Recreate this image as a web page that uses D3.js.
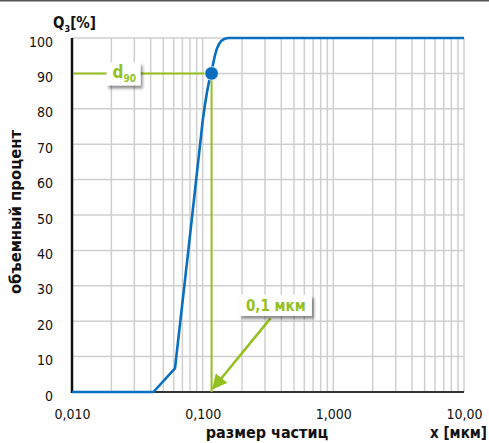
<!DOCTYPE html>
<html>
<head>
<meta charset="utf-8">
<script src="https://cdn.jsdelivr.net/npm/d3@7"></script>
<style>
  body { margin: 0; background: #fff; }
  text { font-family: "DejaVu Sans Condensed", "DejaVu Sans", sans-serif; }
</style>
</head>
<body>
<div id="chart"></div>
<script>
// particle size distribution (cumulative volume)
var sizes  = [0.010, 0.030, 0.042, 0.0614, 0.0777, 0.100, 0.104, 0.108, 0.112, 0.117, 0.120, 0.124, 0.128, 0.133, 0.139, 0.146, 0.156, 0.175, 1.0, 10.0];
var volume = [0, 0, 0, 6.7, 40, 76.5, 81, 84.8, 87.8, 90.5, 92.6, 95, 96.8, 98.2, 99.2, 99.7, 100, 100, 100, 100];
var d90 = 0.117;
var d90Value = 90;
var yTicks = [0, 10, 20, 30, 40, 50, 60, 70, 80, 90, 100];
var xTicks = [0.01, 0.1, 1, 10];
var xTickLabels = ["0,010", "0,100", "1,000", "10,00"];

var svgWidth = 489;
var svgHeight = 443;
var margin = { top: 38, right: 25, bottom: 51, left: 72 };
var width = svgWidth - margin.left - margin.right;
var height = svgHeight - margin.top - margin.bottom;

var blue = "#0a6fbf";
var green = "#93c01f";

var svg = d3.select("#chart").append("svg")
    .attr("width", svgWidth)
    .attr("height", svgHeight);

// drop shadow for the label boxes
var filter = svg.append("defs").append("filter")
    .attr("id", "shadow")
    .attr("x", "-30%").attr("y", "-30%")
    .attr("width", "160%").attr("height", "180%");
filter.append("feDropShadow")
    .attr("dx", 2).attr("dy", 3)
    .attr("stdDeviation", 1.8)
    .attr("flood-color", "#000")
    .attr("flood-opacity", 0.45);

svg.select("defs").append("marker")
    .attr("id", "arrow")
    .attr("viewBox", "0 0 10 10")
    .attr("refX", 9).attr("refY", 5)
    .attr("markerWidth", 6).attr("markerHeight", 6)
    .attr("markerUnits", "strokeWidth")
    .attr("orient", "auto")
    .append("path")
    .attr("d", "M0,0 L10,5 L0,10 Z")
    .attr("fill", green);

// top frame line
svg.append("line")
    .attr("x1", 0).attr("x2", svgWidth)
    .attr("y1", 0.5).attr("y2", 0.5)
    .attr("stroke", "#555").attr("stroke-width", 2);

var chartGroup = svg.append("g")
    .attr("transform", `translate(${margin.left}, ${margin.top})`);

var xScale = d3.scaleLog().domain([0.01, 10]).range([0, width]);
var yScale = d3.scaleLinear().domain([0, 100]).range([height, 0]);

// grid
var gridX = [];
[0.01, 0.1, 1].forEach(function(dec) {
    for (var i = 2; i <= 10; i++) gridX.push(dec * i);
});
chartGroup.append("g").selectAll("line")
    .data(gridX)
    .enter().append("line")
    .attr("x1", d => xScale(d)).attr("x2", d => xScale(d))
    .attr("y1", 0).attr("y2", height)
    .attr("stroke", "#cfcfcf").attr("stroke-width", 1.5);
chartGroup.append("g").selectAll("line")
    .data(yTicks.slice(1))
    .enter().append("line")
    .attr("x1", 0).attr("x2", width)
    .attr("y1", d => yScale(d)).attr("y2", d => yScale(d))
    .attr("stroke", "#cfcfcf").attr("stroke-width", 1.5);

// axes
var leftAxis = d3.axisLeft(yScale).tickValues(yTicks).tickSize(0).tickPadding(19);
var bottomAxis = d3.axisBottom(xScale).tickValues(xTicks).tickSize(0).tickPadding(17)
    .tickFormat((d, i) => xTickLabels[i]);

var yAxis = chartGroup.append("g").call(leftAxis);
yAxis.select(".domain").remove();
yAxis.selectAll("text")
    .attr("font-size", 14).attr("fill", "#111").attr("dy", 8)
    .style("font-family", "'DejaVu Sans Condensed', 'DejaVu Sans', sans-serif");

var xAxis = chartGroup.append("g")
    .attr("transform", `translate(0, ${height})`)
    .call(bottomAxis);
xAxis.select(".domain").remove();
xAxis.selectAll("text")
    .attr("font-size", 14).attr("fill", "#111").attr("dy", 10)
    .style("font-family", "'DejaVu Sans Condensed', 'DejaVu Sans', sans-serif");

chartGroup.append("line")
    .attr("x1", 0).attr("x2", width)
    .attr("y1", height).attr("y2", height)
    .attr("stroke", "#333").attr("stroke-width", 2);
chartGroup.append("line")
    .attr("x1", 0).attr("x2", 0)
    .attr("y1", 0).attr("y2", height + 1)
    .attr("stroke", "#111").attr("stroke-width", 2.5);

// d90 guide lines
chartGroup.append("line")
    .attr("x1", 1).attr("x2", xScale(d90))
    .attr("y1", yScale(d90Value)).attr("y2", yScale(d90Value))
    .attr("stroke", green).attr("stroke-width", 2);
chartGroup.append("line")
    .attr("x1", xScale(d90)).attr("x2", xScale(d90))
    .attr("y1", yScale(d90Value)).attr("y2", height)
    .attr("stroke", green).attr("stroke-width", 2);

// distribution curve
var line = d3.line()
    .x((d, i) => xScale(sizes[i]))
    .y(d => yScale(d));
chartGroup.append("path")
    .datum(volume)
    .attr("d", line)
    .attr("fill", "none")
    .attr("stroke", blue)
    .attr("stroke-width", 2.6)
    .attr("stroke-linejoin", "round");

chartGroup.append("circle")
    .attr("cx", xScale(d90)).attr("cy", yScale(d90Value))
    .attr("r", 6.8)
    .attr("fill", blue)
    .attr("stroke", "#fff").attr("stroke-width", 0.8);

// d90 label box
var dBox = chartGroup.append("g")
    .attr("transform", `translate(${xScale(0.0248)}, ${yScale(d90Value)})`);
dBox.append("rect")
    .attr("x", -17).attr("y", -11)
    .attr("width", 34).attr("height", 23)
    .attr("fill", "#fff")
    .attr("filter", "url(#shadow)");
var dText = dBox.append("text")
    .attr("x", -11).attr("y", 5)
    .attr("fill", green).attr("font-weight", "bold").attr("font-size", 17);
dText.append("tspan").text("d");
dText.append("tspan").attr("font-size", 10).attr("dy", 4).text("90");

// arrow + size label
chartGroup.append("line")
    .attr("x1", xScale(0.330)).attr("y1", yScale(20.8))
    .attr("x2", xScale(0.120)).attr("y2", yScale(1.0))
    .attr("stroke", green).attr("stroke-width", 2.5)
    .attr("marker-end", "url(#arrow)");

var sBox = chartGroup.append("g")
    .attr("transform", `translate(${xScale(0.363)}, ${yScale(24.6)})`);
sBox.append("rect")
    .attr("x", -36).attr("y", -10)
    .attr("width", 72).attr("height", 21)
    .attr("fill", "#fff")
    .attr("filter", "url(#shadow)");
sBox.append("text")
    .attr("x", 0).attr("y", 6)
    .attr("text-anchor", "middle")
    .attr("fill", green).attr("font-weight", "bold").attr("font-size", 15)
    .text("0,1 мкм");

// axis titles
svg.append("text")
    .attr("x", 267).attr("y", 438)
    .attr("text-anchor", "middle")
    .attr("font-weight", "bold").attr("font-size", 16).attr("fill", "#111")
    .text("размер частиц");
svg.append("text")
    .attr("x", 487).attr("y", 438)
    .attr("text-anchor", "end")
    .attr("font-weight", "bold").attr("font-size", 15).attr("fill", "#111")
    .text("x [мкм]");
svg.append("text")
    .attr("transform", "translate(21, 212) rotate(-90)")
    .attr("text-anchor", "middle")
    .attr("font-weight", "bold").attr("font-size", 16.5).attr("fill", "#111")
    .text("объемный процент");

var qText = svg.append("text")
    .attr("x", 53).attr("y", 28)
    .attr("font-weight", "bold").attr("font-size", 15).attr("fill", "#111");
qText.append("tspan").text("Q");
qText.append("tspan").attr("font-size", 9).attr("dy", 4).text("3");
qText.append("tspan").attr("dy", -4).text("[%]");
</script>
</body>
</html>
